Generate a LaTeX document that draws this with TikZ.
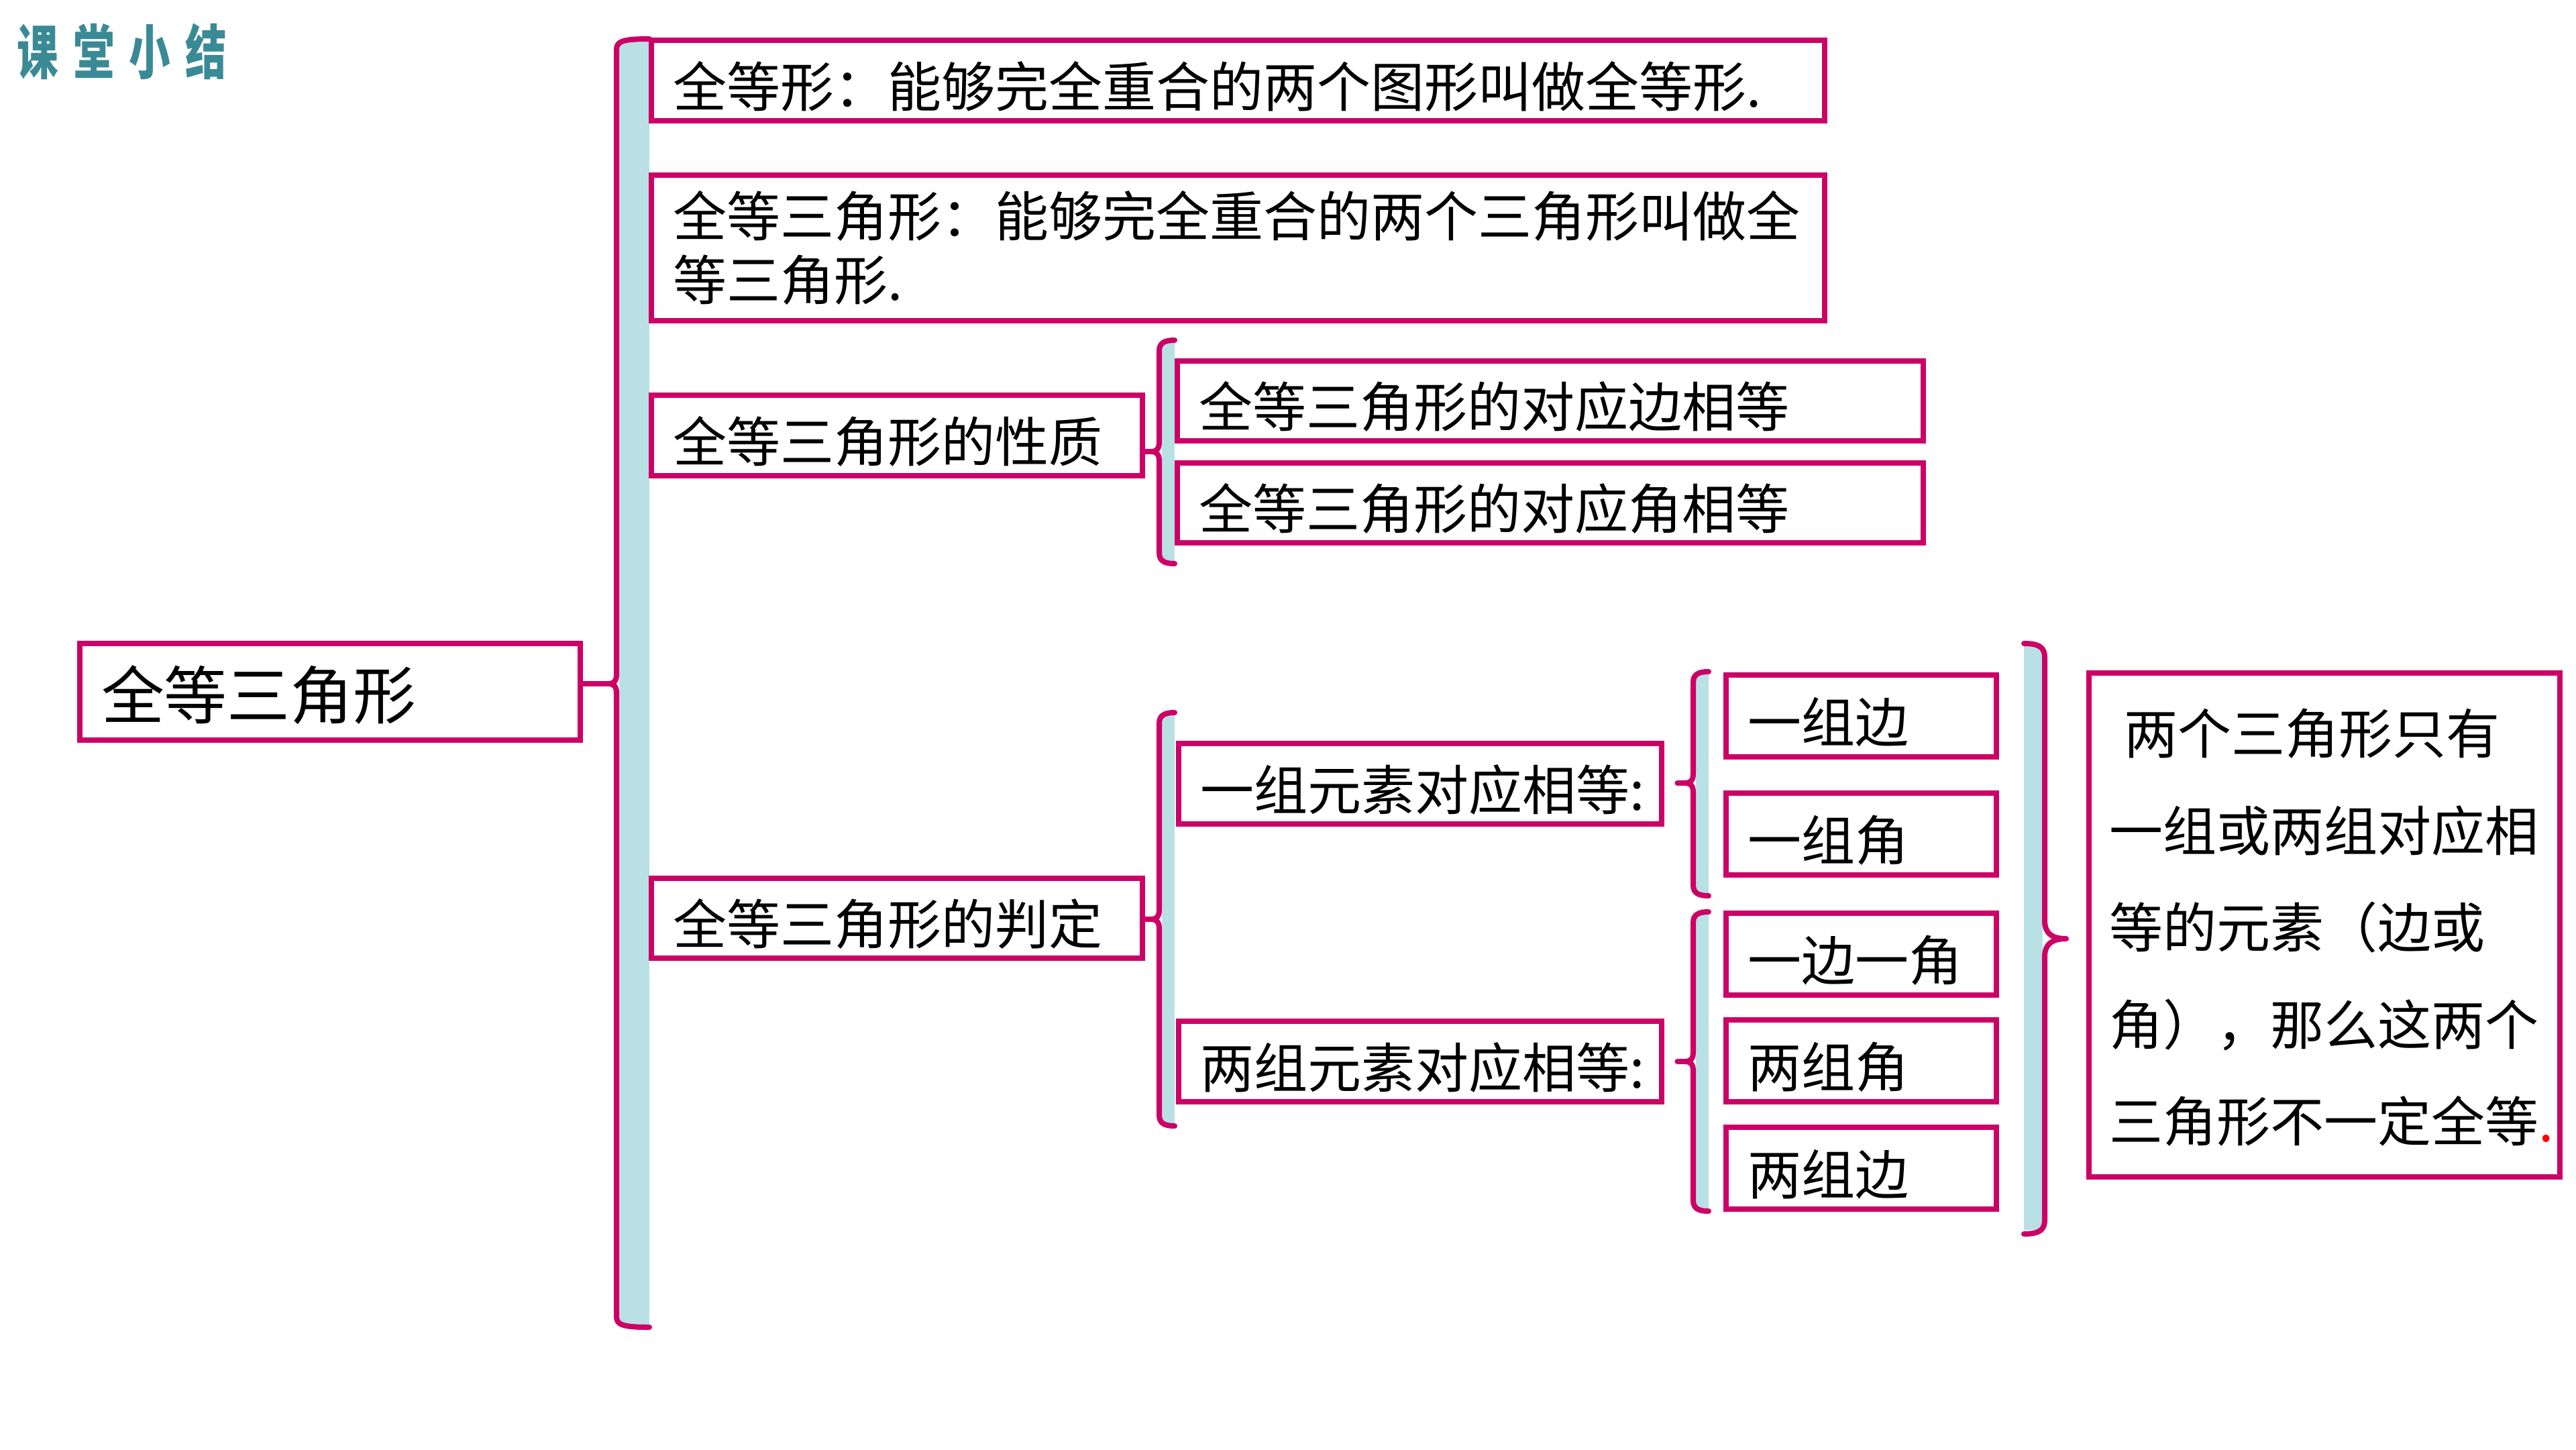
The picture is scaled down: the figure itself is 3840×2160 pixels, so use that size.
\documentclass[tikz,border=0pt]{standalone}
\usepackage{fontspec}
\newfontfamily\cjk{Noto Sans CJK SC}
\newfontfamily\cjktitle[FakeStretch=0.7]{Noto Sans CJK SC}
\definecolor{pk}{RGB}{204,0,102}
\definecolor{bl}{RGB}{185,224,228}
\definecolor{tl}{RGB}{58,138,150}
% left bracket: #1 X, #2 x end, #3 y top, #4 y tip, #5 y bottom, #6 tip name
\newcommand\mybrk[6]{%
  \fill[bl] (#1+4,#3+4) rectangle (#2,#5-4);
  \draw[pkl] (#2,#3) .. controls (#1+8,#3) and (#1,#3+4) .. (#1,#3+16)
    -- (#1,#4-14) .. controls (#1,#4-4) and (#1-4,#4) .. (#1-12,#4)
    .. controls (#1-4,#4) and (#1,#4+4) .. (#1,#4+14)
    -- (#1,#5-16) .. controls (#1,#5-4) and (#1+8,#5) .. (#2,#5);
  \coordinate (#6) at (#1-12,#4);
}
\begin{document}
\begin{tikzpicture}[x=0.01cm,y=-0.01cm,
  pkl/.style={draw=pk,line width=0.08cm,line cap=round,line join=round},
  box/.style={draw=pk,line width=0.08cm,fill=white,anchor=north west,
    inner xsep=0.32cm,inner ysep=0pt,align=left,
    font=\cjk\fontsize{22.76}{27}\selectfont},
  one line/.style={text height=0.78cm,text depth=0pt},
]
\useasboundingbox (0,0) rectangle (3840,2160);

% title
\node[anchor=west,inner sep=0pt,text=tl,font=\cjktitle\bfseries\fontsize{25}{25}\selectfont]
  (title) at (25,77) {课\hspace{0.22cm}堂\hspace{0.22cm}小\hspace{0.22cm}结};

% brackets
\mybrk{919}{968}{58}{1019}{1978}{t1}
\mybrk{1728}{1751}{507}{673}{840}{t2}
\mybrk{1728}{1751}{1062}{1370}{1678}{t3}
\mybrk{2524}{2547}{1001}{1167}{1335}{t4}
\mybrk{2524}{2547}{1359}{1582}{1805}{t5}

% right brace
\fill[bl] (3017,963) rectangle (3045,1833);
\draw[pkl] (3017,959) .. controls (3040,959) and (3048,965) .. (3048,980)
  -- (3048,1372) .. controls (3048,1392) and (3060,1399) .. (3080,1399)
  .. controls (3060,1399) and (3048,1406) .. (3048,1426)
  -- (3048,1818) .. controls (3048,1833) and (3040,1839) .. (3017,1839);
\coordinate (rt) at (3080,1399);

% boxes
\node[box,text width=6.82cm,minimum height=1.44cm,text height=0.8cm,text depth=0pt,
  font=\cjk\fontsize{26.7}{30}\selectfont]
  (root) at (115,955) {全等三角形};
\node[box,one line,text width=16.84cm,minimum height=1.20cm] (A) at (967,56)
  {全等形：能够完全重合的两个图形叫做全等形.};
\node[box,text width=16.84cm,minimum height=2.17cm] (B) at (967,257)
  {全等三角形：能够完全重合的两个三角形叫做全\\等三角形.};
\node[box,one line,text width=6.68cm,minimum height=1.20cm] (prop) at (967,585)
  {全等三角形的性质};
\node[box,one line,text width=10.47cm,minimum height=1.19cm] (pe) at (1751,534)
  {全等三角形的对应边相等};
\node[box,one line,text width=10.47cm,minimum height=1.19cm] (pa) at (1751,686)
  {全等三角形的对应角相等};
\node[box,one line,text width=6.68cm,minimum height=1.19cm] (judge) at (967,1305)
  {全等三角形的判定};
\node[box,one line,text width=6.56cm,minimum height=1.20cm] (one) at (1753,1104)
  {一组元素对应相等:};
\node[box,one line,text width=6.56cm,minimum height=1.20cm] (two) at (1753,1518)
  {两组元素对应相等:};
\node[box,one line,text width=3.39cm,minimum height=1.22cm] (s1) at (2569,1002) {一组边};
\node[box,one line,text width=3.39cm,minimum height=1.22cm] (s2) at (2569,1178) {一组角};
\node[box,one line,text width=3.39cm,minimum height=1.22cm] (s3) at (2569,1357) {一边一角};
\node[box,one line,text width=3.39cm,minimum height=1.22cm] (s4) at (2569,1516) {两组角};
\node[box,one line,text width=3.39cm,minimum height=1.22cm] (s5) at (2569,1676) {两组边};
\node[box,text width=6.42cm,inner xsep=0.3cm,minimum height=7.51cm,
  font=\cjk\fontsize{22.76}{41.1}\selectfont] (note) at (3110,999)
  {\rule{0pt}{0.75cm}\hspace*{0.22cm}两个三角形只有\\一组或两组对应相\\等的元素（边或\\角），那么这两个\\三角形不一定全等{\color{red}.}};

% stubs
\draw[pkl] (root.east |- t1) -- (t1);
\draw[pkl] (prop.east |- t2) -- (t2);
\draw[pkl] (judge.east |- t3) -- (t3);
\draw[pkl] ([xshift=0.19cm]one.east |- t4) -- (t4);
\draw[pkl] ([xshift=0.19cm]two.east |- t5) -- (t5);
\end{tikzpicture}
\end{document}
